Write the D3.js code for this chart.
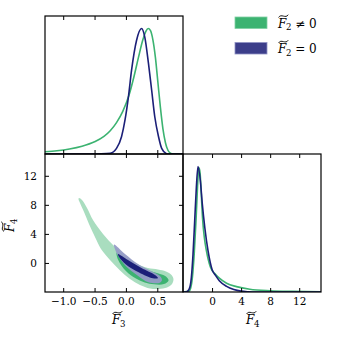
<!DOCTYPE html>
<html>
<head>
<meta charset="utf-8">
<script src="https://cdn.jsdelivr.net/npm/d3@7"></script>
<style>
  body { margin: 0; background: #fff; }
  svg text { font-family: "DejaVu Serif", serif; fill: #000; }
</style>
</head>
<body>
<div id="chart"></div>
<script>
// tick values
const f3Ticks = [-1.0, -0.5, 0.0, 0.5];
const f4Ticks = [0, 4, 8, 12];

// 1D marginal of F3, normalised to peak = 1
const f3Green = [[-1.29,0.018],[-1.1,0.026],[-0.9,0.04],[-0.7,0.062],[-0.5,0.097],[-0.35,0.14],[-0.25,0.185],[-0.15,0.25],[-0.05,0.34],[0.05,0.47],[0.13,0.62],[0.20,0.77],[0.27,0.91],[0.32,0.98],[0.355,1.0],[0.39,0.985],[0.43,0.91],[0.47,0.77],[0.51,0.57],[0.55,0.37],[0.59,0.2],[0.63,0.09],[0.67,0.03],[0.71,0.007],[0.75,0],[0.91,0]];
const f3Blue = [[-1.29,0],[-0.5,0],[-0.41,0.001],[-0.25,0.006],[-0.15,0.045],[-0.07,0.138],[-0.015,0.27],[0.04,0.456],[0.09,0.668],[0.17,0.907],[0.25,1.0],[0.30,0.933],[0.36,0.72],[0.41,0.51],[0.46,0.297],[0.52,0.138],[0.57,0.045],[0.64,0.005],[0.67,0],[0.91,0]];

// 1D marginal of F4, normalised to peak = 1
const f4Green = [[-4,0],[-3.2,0.005],[-2.95,0.03],[-2.7,0.12],[-2.45,0.31],[-2.2,0.58],[-2.0,0.84],[-1.8,0.99],[-1.65,0.95],[-1.5,0.8],[-1.3,0.58],[-1.05,0.43],[-0.78,0.33],[-0.23,0.2],[0.5,0.14],[1.0,0.11],[2.0,0.07],[3.36,0.043],[5.2,0.022],[8,0.01],[11,0.005],[15,0.002]];
const f4Blue = [[-4,0],[-3.5,0.002],[-3.17,0.02],[-2.85,0.115],[-2.62,0.30],[-2.39,0.567],[-2.16,0.834],[-1.93,1.0],[-1.61,0.887],[-1.34,0.70],[-1.0,0.514],[-0.55,0.327],[0,0.18],[0.5,0.13],[1.0,0.09],[2,0.045],[3,0.02],[4,0.007],[5,0.002],[6,0],[15,0]];

// 2D credible regions (F3, F4)
const greenOuter = [[-0.748,8.93],[-0.700,8.66],[-0.620,7.56],[-0.525,5.91],[-0.365,3.99],[-0.190,2.34],[-0.015,0.96],[0.177,-0.14],[0.352,-0.69],[0.511,-0.89],[0.639,-1.17],[0.727,-1.65],[0.758,-2.20],[0.735,-2.89],[0.655,-3.37],[0.527,-3.57],[0.384,-3.51],[0.224,-3.02],[0.065,-2.20],[-0.094,-1.03],[-0.254,0.41],[-0.397,1.92],[-0.493,3.57],[-0.589,5.36],[-0.668,7.01],[-0.732,8.25],[-0.756,8.80]];
const greenInner = [[-0.147,1.44],[-0.015,0.55],[0.193,-0.41],[0.384,-1.10],[0.543,-1.51],[0.639,-1.86],[0.68,-2.4],[0.607,-2.9],[0.45,-2.95],[0.30,-2.7],[0.16,-2.15],[0.0,-1.1],[-0.125,0.45]];
const blueOuter = [[-0.190,2.54],[-0.015,1.24],[0.193,-0.14],[0.400,-1.10],[0.543,-1.79],[0.575,-2.34],[0.54,-2.72],[0.36,-2.65],[0.19,-1.75],[0.0,-0.45],[-0.13,1.05]];
const blueInner = [[-0.126,1.24],[0.033,0.41],[0.248,-0.69],[0.463,-1.65],[0.511,-2.06],[0.43,-2.1],[0.21,-1.3],[0.0,-0.2],[-0.115,0.9]];

const legendSubs = ["2", "2"];
const legendRest = ["\u2260 0", "= 0"];

const green = "#3cb371", greenLight = "#a9ddbf";
const navy = "#1b1f78", blueLight = "#959bc6";
const serif = "'DejaVu Serif', serif";

const W = 337, H = 337;
const x0 = 45, x1 = 183, x2 = 321;
const y0 = 16, y1 = 154, y2 = 292;

const svg = d3.select("#chart").append("svg")
  .attr("width", W).attr("height", H);

const xF3 = d3.scaleLinear().domain([-1.29, 0.91]).range([x0, x1]);
const yF4 = d3.scaleLinear().domain([-4, 15]).range([y2, y1]);
const xF4 = d3.scaleLinear().domain([-4, 15]).range([x1, x2]);
const yTop = d3.scaleLinear().domain([0, 1.1]).range([y1, y0]);
const yRight = d3.scaleLinear().domain([0, 1.1]).range([y2, y1]);

// clip paths for each panel
const defs = svg.append("defs");
[["cTL", x0, y0, x1 - x0, y1 - y0], ["cBL", x0, y1, x1 - x0, y2 - y1], ["cBR", x1, y1, x2 - x1, y2 - y1]]
  .forEach(([id, x, y, w, h]) => {
    defs.append("clipPath").attr("id", id).append("rect")
      .attr("x", x).attr("y", y).attr("width", w).attr("height", h);
  });

// top-left: F3 marginal
const lineTop = d3.line().x(d => xF3(d[0])).y(d => yTop(d[1])).curve(d3.curveMonotoneX);
const gTL = svg.append("g").attr("clip-path", "url(#cTL)");
gTL.append("path").attr("d", lineTop(f3Green)).attr("fill", "none").attr("stroke", green).attr("stroke-width", 1.6);
gTL.append("path").attr("d", lineTop(f3Blue)).attr("fill", "none").attr("stroke", navy).attr("stroke-width", 1.6);

// bottom-left: 2D contours
const area = d3.line().x(d => xF3(d[0])).y(d => yF4(d[1])).curve(d3.curveCatmullRomClosed.alpha(0.5));
const gBL = svg.append("g").attr("clip-path", "url(#cBL)");
gBL.append("path").attr("d", area(greenOuter)).attr("fill", greenLight);
gBL.append("path").attr("d", area(greenInner)).attr("fill", green);
gBL.append("path").attr("d", area(blueOuter)).attr("fill", blueLight).attr("fill-opacity", 0.95);
gBL.append("path").attr("d", area(blueInner)).attr("fill", navy);

// bottom-right: F4 marginal
const lineRight = d3.line().x(d => xF4(d[0])).y(d => yRight(d[1])).curve(d3.curveMonotoneX);
const gBR = svg.append("g").attr("clip-path", "url(#cBR)");
gBR.append("path").attr("d", lineRight(f4Green)).attr("fill", "none").attr("stroke", green).attr("stroke-width", 1.6);
gBR.append("path").attr("d", lineRight(f4Blue)).attr("fill", "none").attr("stroke", navy).attr("stroke-width", 1.6);

// axes, ticks pointing inward
function axis(gen, tx, ty, labels) {
  const g = svg.append("g").attr("transform", `translate(${tx},${ty})`).call(gen);
  g.attr("font-family", null);
  g.select(".domain").remove();
  g.selectAll("text").attr("font-size", 10.5).style("font-family", serif);
  if (!labels) g.selectAll("text").remove();
  return g;
}
const f1 = d3.format(".1f"), f0 = d3.format("d");
// top-left panel
axis(d3.axisTop(xF3).tickValues(f3Ticks).tickSize(-4), 0, y0, false);
axis(d3.axisBottom(xF3).tickValues(f3Ticks).tickSize(-4), 0, y1, false);
// bottom-left panel
axis(d3.axisTop(xF3).tickValues(f3Ticks).tickSize(-4), 0, y1, false);
axis(d3.axisBottom(xF3).tickValues(f3Ticks).tickSize(-4).tickPadding(6).tickFormat(f1), 0, y2, true);
axis(d3.axisLeft(yF4).tickValues(f4Ticks).tickSize(-4).tickPadding(8).tickFormat(f0), x0, 0, true);
axis(d3.axisRight(yF4).tickValues(f4Ticks).tickSize(-4), x1, 0, false);
// bottom-right panel
axis(d3.axisTop(xF4).tickValues(f4Ticks).tickSize(-4), 0, y1, false);
axis(d3.axisBottom(xF4).tickValues(f4Ticks).tickSize(-4).tickPadding(6).tickFormat(f0), 0, y2, true);

// frames
[[x0, y0, x1 - x0, y1 - y0], [x0, y1, x1 - x0, y2 - y1], [x1, y1, x2 - x1, y2 - y1]].forEach(([x, y, w, h]) => {
  svg.append("rect").attr("x", x).attr("y", y).attr("width", w).attr("height", h)
    .attr("fill", "none").attr("stroke", "#000").attr("stroke-width", 1.2);
});

// F with a wide tilde, subscript and optional trailing text
function texF(g, sub, rest, size) {
  const t = g.append("text").attr("font-size", size).style("font-family", serif);
  t.append("tspan").attr("font-style", "italic").text("F");
  t.append("tspan").attr("font-size", size * 0.72).attr("dy", size * 0.22).attr("dx", -size * 0.02).text(sub);
  if (rest) t.append("tspan").attr("dy", -size * 0.22).attr("dx", size * 0.3).text(rest);
  const w = size * 0.8;
  g.append("path")
    .attr("d", `M${-w / 2},1.4 C${-w / 4},-3 ${w / 4},3 ${w / 2},-1.4`)
    .attr("transform", `translate(${size * 0.45},${-size * 0.95})`)
    .attr("fill", "none").attr("stroke", "#000").attr("stroke-width", 0.9);
  return t;
}

// axis labels
texF(svg.append("g").attr("transform", "translate(112,324)"), "3", null, 12);
texF(svg.append("g").attr("transform", "translate(246,324)"), "4", null, 12);
texF(svg.append("g").attr("transform", "translate(14,232) rotate(-90)"), "4", null, 12);

// legend
const legColors = [[green, "#7fd0a3"], ["#3c3e8a", "#8f92c4"]];
legendSubs.forEach((s, i) => {
  const yy = 17 + i * 25.5;
  svg.append("rect").attr("x", 235).attr("y", yy).attr("width", 32).attr("height", 11.5)
    .attr("fill", legColors[i][0]).attr("stroke", legColors[i][1]).attr("stroke-width", 0.8);
  texF(svg.append("g").attr("transform", `translate(278,${yy + 10.5})`), s, legendRest[i], 12);
});
</script>
</body>
</html>
